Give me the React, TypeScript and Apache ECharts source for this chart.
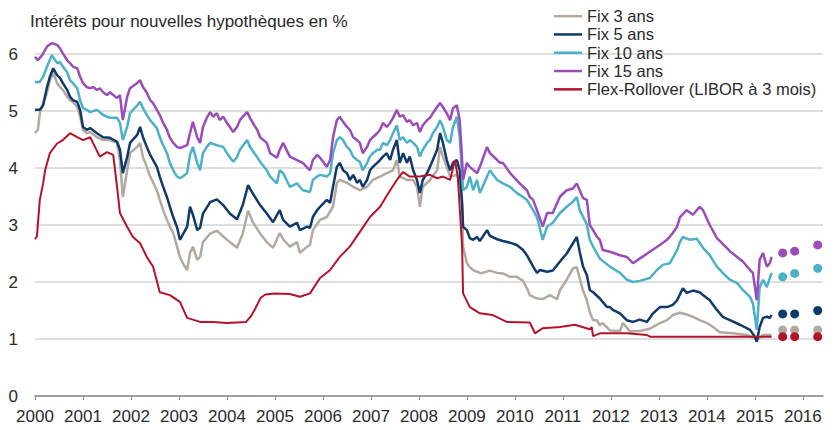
import React, { useEffect, useRef } from "react";
import * as echarts from "echarts";

const TITLE = "Intérêts pour nouvelles hypothèques en %";
const SERIES_NAMES = ["Fix 3 ans", "Fix 5 ans", "Fix 10 ans", "Fix 15 ans", "Flex-Rollover (LIBOR à 3 mois)"];
const YEAR_TICKS = [2000, 2001, 2002, 2003, 2004, 2005, 2006, 2007, 2008, 2009, 2010, 2011, 2012, 2013, 2014, 2015, 2016];
const Y_TICKS = [0, 1, 2, 3, 4, 5, 6];

const fix15: [number, number][] = [
  [2000.00,5.95],[2000.06,5.89],[2000.15,5.98],[2000.25,6.13],[2000.35,6.19],[2000.46,6.16],[2000.52,6.10],[2000.58,6.01],[2000.67,5.89],[2000.73,5.84],[2000.79,5.78],[2000.88,5.75],[2000.94,5.60],[2001.00,5.49],[2001.08,5.42],[2001.15,5.40],[2001.21,5.42],[2001.29,5.37],[2001.35,5.40],[2001.42,5.33],[2001.50,5.28],[2001.56,5.33],[2001.63,5.28],[2001.71,5.23],[2001.77,5.28],[2001.83,4.84],[2001.92,5.25],[2001.98,5.40],[2002.13,5.49],[2002.19,5.54],[2002.25,5.42],[2002.33,5.32],[2002.40,5.19],[2002.46,5.14],[2002.54,5.02],[2002.60,4.93],[2002.67,4.79],[2002.75,4.67],[2002.81,4.53],[2002.88,4.44],[2002.96,4.37],[2003.02,4.35],[2003.08,4.37],[2003.17,4.40],[2003.23,4.61],[2003.29,4.81],[2003.38,4.54],[2003.44,4.44],[2003.50,4.72],[2003.58,4.88],[2003.65,4.98],[2003.71,4.90],[2003.79,4.96],[2003.85,4.84],[2003.92,4.90],[2004.00,4.79],[2004.06,4.72],[2004.13,4.63],[2004.21,4.72],[2004.27,4.84],[2004.33,4.90],[2004.42,4.98],[2004.48,4.88],[2004.54,4.79],[2004.63,4.67],[2004.69,4.54],[2004.83,4.44],[2004.90,4.26],[2005.04,4.18],[2005.10,4.32],[2005.17,4.44],[2005.31,4.20],[2005.46,4.14],[2005.58,4.09],[2005.73,3.96],[2005.79,4.14],[2005.88,4.23],[2005.94,4.18],[2006.08,4.02],[2006.15,4.14],[2006.21,4.54],[2006.29,4.84],[2006.35,4.90],[2006.42,4.81],[2006.50,4.72],[2006.56,4.67],[2006.63,4.54],[2006.71,4.49],[2006.77,4.44],[2006.83,4.26],[2006.92,4.37],[2006.98,4.49],[2007.04,4.54],[2007.13,4.61],[2007.19,4.67],[2007.25,4.79],[2007.33,4.72],[2007.40,4.79],[2007.46,4.88],[2007.54,5.02],[2007.60,4.90],[2007.67,4.93],[2007.75,4.81],[2007.81,4.84],[2007.88,4.75],[2007.96,4.79],[2008.02,4.63],[2008.08,4.75],[2008.17,4.84],[2008.23,4.88],[2008.29,4.96],[2008.38,5.07],[2008.44,5.14],[2008.50,5.07],[2008.58,4.96],[2008.65,4.84],[2008.71,5.05],[2008.79,5.10],[2008.85,4.84],[2008.90,4.14],[2008.92,3.79],[2009.00,4.09],[2009.06,4.02],[2009.21,3.91],[2009.27,4.02],[2009.42,4.37],[2009.48,4.26],[2009.63,4.14],[2009.69,4.09],[2009.75,4.09],[2009.90,3.91],[2010.10,3.73],[2010.25,3.61],[2010.31,3.49],[2010.38,3.44],[2010.46,3.26],[2010.58,2.97],[2010.67,3.21],[2010.79,3.21],[2010.94,3.50],[2011.08,3.61],[2011.21,3.64],[2011.29,3.73],[2011.35,3.61],[2011.42,3.47],[2011.50,3.44],[2011.56,3.00],[2011.63,2.91],[2011.71,2.79],[2011.77,2.74],[2011.83,2.56],[2011.98,2.53],[2012.19,2.47],[2012.33,2.44],[2012.46,2.33],[2012.60,2.41],[2012.81,2.53],[2013.02,2.65],[2013.17,2.74],[2013.29,2.86],[2013.38,2.97],[2013.44,3.14],[2013.58,3.26],[2013.71,3.18],[2013.85,3.32],[2013.92,3.26],[2014.06,3.00],[2014.21,2.77],[2014.33,2.67],[2014.48,2.54],[2014.63,2.44],[2014.75,2.36],[2014.90,2.21],[2014.96,2.16],[2015.04,1.68],[2015.10,2.39],[2015.17,2.51],[2015.25,2.27],[2015.31,2.33],[2015.35,2.44]
];

const fix10: [number, number][] = [
  [2000.00,5.51],[2000.10,5.51],[2000.17,5.60],[2000.25,5.78],[2000.35,5.98],[2000.46,5.84],[2000.52,5.86],[2000.58,5.78],[2000.67,5.68],[2000.73,5.54],[2000.79,5.49],[2000.88,5.40],[2000.94,5.19],[2001.00,5.05],[2001.08,5.02],[2001.15,4.98],[2001.29,5.02],[2001.42,4.93],[2001.56,4.88],[2001.71,4.88],[2001.77,4.79],[2001.83,4.49],[2001.92,4.72],[2001.98,4.96],[2002.13,5.10],[2002.19,5.16],[2002.25,5.05],[2002.33,4.93],[2002.40,4.84],[2002.54,4.70],[2002.60,4.54],[2002.67,4.40],[2002.75,4.26],[2002.81,4.09],[2002.88,3.96],[2002.96,3.85],[2003.02,3.82],[2003.08,3.85],[2003.17,3.91],[2003.23,4.23],[2003.29,4.37],[2003.38,4.09],[2003.44,3.96],[2003.50,4.26],[2003.58,4.37],[2003.65,4.44],[2003.79,4.40],[2003.92,4.37],[2004.00,4.26],[2004.13,4.11],[2004.21,4.19],[2004.27,4.32],[2004.42,4.49],[2004.48,4.37],[2004.63,4.19],[2004.69,4.11],[2004.83,3.96],[2004.90,3.85],[2005.04,3.73],[2005.10,3.96],[2005.17,3.91],[2005.31,3.67],[2005.46,3.73],[2005.58,3.61],[2005.73,3.58],[2005.79,3.79],[2005.88,3.85],[2005.94,3.88],[2006.08,3.85],[2006.15,3.91],[2006.21,4.26],[2006.29,4.49],[2006.35,4.54],[2006.42,4.49],[2006.50,4.37],[2006.56,4.32],[2006.63,4.20],[2006.71,4.14],[2006.77,4.11],[2006.83,3.96],[2006.92,4.09],[2006.98,4.20],[2007.04,4.26],[2007.13,4.32],[2007.19,4.32],[2007.25,4.44],[2007.33,4.40],[2007.40,4.49],[2007.46,4.61],[2007.54,4.75],[2007.60,4.49],[2007.67,4.54],[2007.75,4.44],[2007.81,4.49],[2007.88,4.44],[2007.96,4.37],[2008.02,4.20],[2008.08,4.32],[2008.17,4.44],[2008.23,4.49],[2008.29,4.61],[2008.38,4.72],[2008.44,4.84],[2008.50,4.72],[2008.58,4.49],[2008.65,4.44],[2008.71,4.72],[2008.79,4.90],[2008.85,4.55],[2008.92,3.61],[2009.00,3.67],[2009.06,3.85],[2009.13,3.61],[2009.21,3.79],[2009.27,3.56],[2009.42,3.85],[2009.48,3.96],[2009.63,3.79],[2009.75,3.73],[2009.90,3.67],[2010.04,3.56],[2010.17,3.49],[2010.25,3.44],[2010.38,3.26],[2010.46,3.14],[2010.58,2.74],[2010.67,2.97],[2010.79,3.04],[2010.94,3.21],[2011.08,3.32],[2011.21,3.41],[2011.29,3.49],[2011.35,3.26],[2011.50,3.01],[2011.56,2.74],[2011.63,2.62],[2011.77,2.41],[2011.98,2.27],[2012.19,2.16],[2012.33,2.04],[2012.46,2.00],[2012.60,2.02],[2012.81,2.07],[2012.96,2.21],[2013.08,2.30],[2013.23,2.33],[2013.38,2.56],[2013.44,2.70],[2013.50,2.79],[2013.65,2.74],[2013.79,2.76],[2013.92,2.60],[2014.06,2.47],[2014.21,2.27],[2014.33,2.16],[2014.48,2.04],[2014.63,1.98],[2014.75,1.86],[2014.90,1.74],[2014.96,1.62],[2015.04,1.16],[2015.10,1.91],[2015.17,2.04],[2015.25,1.91],[2015.31,2.07],[2015.35,2.16]
];

const fix5: [number, number][] = [
  [2000.00,5.02],[2000.10,5.02],[2000.17,5.10],[2000.25,5.42],[2000.31,5.60],[2000.38,5.75],[2000.46,5.63],[2000.52,5.58],[2000.58,5.49],[2000.67,5.37],[2000.73,5.25],[2000.79,5.19],[2000.88,5.16],[2000.94,5.02],[2001.00,4.72],[2001.08,4.67],[2001.15,4.70],[2001.29,4.61],[2001.42,4.54],[2001.56,4.53],[2001.71,4.46],[2001.77,4.32],[2001.83,3.91],[2001.92,4.19],[2001.98,4.44],[2002.13,4.58],[2002.19,4.72],[2002.25,4.54],[2002.33,4.37],[2002.40,4.23],[2002.54,4.02],[2002.60,3.85],[2002.67,3.67],[2002.75,3.49],[2002.81,3.32],[2002.88,3.14],[2002.96,2.96],[2003.02,2.74],[2003.17,2.97],[2003.23,3.32],[2003.29,3.18],[2003.38,2.91],[2003.44,2.95],[2003.50,3.20],[2003.65,3.40],[2003.79,3.45],[2003.92,3.35],[2004.06,3.20],[2004.21,3.10],[2004.33,3.35],[2004.44,3.70],[2004.54,3.55],[2004.69,3.35],[2004.83,3.20],[2004.96,3.05],[2005.10,3.26],[2005.17,3.09],[2005.31,2.97],[2005.46,3.04],[2005.52,2.91],[2005.67,2.97],[2005.73,2.95],[2005.79,3.14],[2005.88,3.26],[2005.94,3.32],[2006.08,3.44],[2006.15,3.39],[2006.21,3.67],[2006.29,4.02],[2006.35,4.09],[2006.42,3.96],[2006.50,3.91],[2006.56,3.79],[2006.63,3.88],[2006.71,3.74],[2006.77,3.79],[2006.83,3.67],[2006.92,3.79],[2006.98,3.96],[2007.04,4.02],[2007.13,4.09],[2007.19,4.14],[2007.25,4.20],[2007.33,4.26],[2007.40,4.14],[2007.46,4.32],[2007.54,4.49],[2007.60,4.09],[2007.67,4.26],[2007.75,4.09],[2007.81,4.20],[2007.88,3.96],[2007.96,3.79],[2008.02,3.56],[2008.08,3.79],[2008.17,3.91],[2008.23,4.02],[2008.29,4.14],[2008.38,4.32],[2008.44,4.61],[2008.50,4.44],[2008.58,4.14],[2008.65,3.96],[2008.71,4.09],[2008.79,4.14],[2008.85,3.96],[2008.90,3.39],[2008.92,2.97],[2009.00,2.91],[2009.06,2.77],[2009.13,2.74],[2009.21,2.79],[2009.27,2.72],[2009.42,2.91],[2009.48,2.81],[2009.63,2.75],[2009.75,2.72],[2009.90,2.69],[2010.04,2.65],[2010.17,2.56],[2010.25,2.47],[2010.38,2.27],[2010.46,2.16],[2010.52,2.21],[2010.67,2.18],[2010.79,2.20],[2010.94,2.36],[2011.08,2.50],[2011.21,2.68],[2011.29,2.79],[2011.35,2.53],[2011.42,2.27],[2011.50,2.12],[2011.56,1.86],[2011.63,1.82],[2011.77,1.71],[2011.92,1.56],[2011.98,1.56],[2012.04,1.51],[2012.19,1.45],[2012.33,1.33],[2012.46,1.30],[2012.60,1.34],[2012.75,1.30],[2012.88,1.45],[2013.02,1.56],[2013.17,1.56],[2013.29,1.60],[2013.38,1.68],[2013.50,1.89],[2013.58,1.81],[2013.71,1.85],[2013.85,1.82],[2013.92,1.77],[2014.06,1.68],[2014.21,1.51],[2014.33,1.39],[2014.48,1.33],[2014.69,1.25],[2014.90,1.16],[2015.00,1.04],[2015.04,0.95],[2015.10,1.21],[2015.17,1.37],[2015.25,1.39],[2015.31,1.37],[2015.35,1.42]
];

const fix3: [number, number][] = [
  [2000.00,4.61],[2000.06,4.67],[2000.10,4.96],[2000.17,5.14],[2000.25,5.32],[2000.31,5.54],[2000.38,5.67],[2000.46,5.49],[2000.52,5.42],[2000.58,5.37],[2000.67,5.25],[2000.73,5.19],[2000.79,5.16],[2000.88,5.07],[2000.94,4.90],[2001.00,4.67],[2001.08,4.61],[2001.15,4.63],[2001.29,4.54],[2001.42,4.49],[2001.56,4.49],[2001.71,4.44],[2001.77,4.14],[2001.83,3.49],[2001.92,3.96],[2001.98,4.26],[2002.13,4.37],[2002.19,4.44],[2002.25,4.19],[2002.33,4.02],[2002.40,3.85],[2002.54,3.61],[2002.60,3.44],[2002.67,3.26],[2002.75,3.09],[2002.81,2.97],[2002.88,2.86],[2002.96,2.62],[2003.02,2.44],[2003.08,2.33],[2003.17,2.21],[2003.23,2.51],[2003.29,2.62],[2003.38,2.39],[2003.44,2.44],[2003.50,2.70],[2003.65,2.85],[2003.79,2.90],[2003.92,2.80],[2004.06,2.70],[2004.21,2.60],[2004.33,2.85],[2004.44,3.25],[2004.54,3.05],[2004.69,2.85],[2004.83,2.70],[2004.96,2.60],[2005.10,2.86],[2005.17,2.75],[2005.31,2.62],[2005.46,2.70],[2005.52,2.51],[2005.67,2.62],[2005.73,2.65],[2005.79,2.91],[2005.94,3.09],[2006.08,3.14],[2006.21,3.32],[2006.29,3.74],[2006.35,3.79],[2006.50,3.74],[2006.63,3.67],[2006.77,3.61],[2006.92,3.67],[2007.04,3.79],[2007.19,3.85],[2007.33,3.91],[2007.46,3.96],[2007.54,4.14],[2007.60,3.85],[2007.75,3.79],[2007.88,3.79],[2007.96,3.67],[2008.02,3.32],[2008.08,3.67],[2008.23,3.79],[2008.38,3.96],[2008.44,4.37],[2008.50,4.20],[2008.58,4.02],[2008.65,3.85],[2008.79,3.88],[2008.85,3.74],[2008.90,3.32],[2008.92,2.62],[2009.00,2.33],[2009.06,2.26],[2009.13,2.21],[2009.27,2.16],[2009.33,2.16],[2009.48,2.20],[2009.63,2.16],[2009.75,2.15],[2009.90,2.09],[2010.04,2.09],[2010.17,2.02],[2010.25,1.89],[2010.31,1.77],[2010.46,1.71],[2010.58,1.70],[2010.73,1.77],[2010.88,1.70],[2010.94,1.86],[2011.08,2.04],[2011.21,2.24],[2011.29,2.26],[2011.35,2.06],[2011.42,1.85],[2011.50,1.68],[2011.56,1.47],[2011.63,1.33],[2011.71,1.33],[2011.77,1.24],[2011.83,1.28],[2011.98,1.15],[2012.19,1.14],[2012.25,1.28],[2012.40,1.13],[2012.60,1.14],[2012.81,1.18],[2013.02,1.28],[2013.17,1.33],[2013.29,1.42],[2013.44,1.46],[2013.58,1.43],[2013.71,1.39],[2013.85,1.33],[2014.00,1.28],[2014.13,1.21],[2014.27,1.12],[2014.54,1.10],[2014.83,1.07],[2015.00,1.02],[2015.04,0.98],[2015.17,1.07],[2015.35,1.07]
];

const libor: [number, number][] = [
  [2000.00,2.75],[2000.04,2.80],[2000.10,3.44],[2000.17,3.73],[2000.21,3.96],[2000.31,4.26],[2000.46,4.43],[2000.58,4.49],[2000.73,4.61],[2000.88,4.54],[2001.00,4.49],[2001.15,4.54],[2001.25,4.37],[2001.35,4.20],[2001.50,4.28],[2001.63,4.23],[2001.71,3.67],[2001.77,3.21],[2001.92,2.97],[2002.04,2.79],[2002.19,2.68],[2002.33,2.44],[2002.46,2.27],[2002.60,1.82],[2002.81,1.77],[2003.02,1.65],[2003.17,1.37],[2003.44,1.30],[2003.70,1.30],[2004.00,1.28],[2004.40,1.30],[2004.50,1.40],[2004.60,1.55],[2004.70,1.72],[2004.80,1.78],[2005.00,1.80],[2005.31,1.79],[2005.52,1.74],[2005.73,1.80],[2005.94,2.07],[2006.15,2.21],[2006.35,2.44],[2006.56,2.62],[2006.77,2.88],[2006.98,3.14],[2007.19,3.32],[2007.40,3.61],[2007.54,3.79],[2007.67,3.93],[2007.81,3.85],[2008.02,3.85],[2008.23,3.88],[2008.38,3.82],[2008.50,3.85],[2008.65,3.79],[2008.75,4.14],[2008.81,3.85],[2008.90,2.62],[2008.92,1.80],[2009.06,1.56],[2009.27,1.45],[2009.54,1.42],[2009.83,1.30],[2010.31,1.29],[2010.42,1.10],[2010.58,1.19],[2010.94,1.21],[2011.25,1.25],[2011.56,1.17],[2011.60,1.21],[2011.63,1.05],[2011.77,1.10],[2012.33,1.10],[2012.75,1.07],[2012.81,1.04],[2013.50,1.04],[2014.50,1.04],[2015.35,1.04]
];

const FORECAST_YEARS = [2015.58, 2015.83, 2016.31];
const fix3Forecast = [1.16, 1.16, 1.16];
const fix5Forecast = [1.44, 1.44, 1.50];
const fix10Forecast = [2.09, 2.15, 2.24];
const fix15Forecast = [2.51, 2.54, 2.65];
const liborForecast = [1.04, 1.04, 1.04];

const COLORS = ["#b3a9a1", "#0f3a69", "#4cb0c8", "#9a4db8", "#b3142c"];
const FONT = "'Liberation Sans', Arial, Helvetica, sans-serif";

export default function App() {
  const ref = useRef<HTMLDivElement>(null);
  useEffect(() => {
    if (!ref.current) return;
    const chart = echarts.init(ref.current, null, { renderer: "svg" });
    const lines = [fix3, fix5, fix10, fix15, libor];
    const forecasts = [fix3Forecast, fix5Forecast, fix10Forecast, fix15Forecast, liborForecast];
    const series: any[] = [];
    lines.forEach((d, i) => {
      series.push({
        name: SERIES_NAMES[i],
        type: "line",
        data: d,
        symbol: "none",
        showSymbol: false,
        clip: false,
        lineStyle: { color: COLORS[i], width: i === 4 ? 2 : 2.5 },
        itemStyle: { color: COLORS[i] },
        z: 2 + i,
      });
    });
    forecasts.forEach((f, i) => {
      series.push({
        name: SERIES_NAMES[i] + " (prévision)",
        type: "scatter",
        data: FORECAST_YEARS.map((y, k) => [y, f[k]]),
        symbol: "circle",
        symbolSize: 9,
        clip: false,
        itemStyle: { color: COLORS[i], opacity: 1 },
        z: 10 + i,
      });
    });
    chart.setOption({
      animation: false,
      backgroundColor: "#ffffff",
      textStyle: { fontFamily: FONT },
      title: {
        text: TITLE,
        left: 30,
        top: 11,
        padding: 0,
        textStyle: { fontFamily: FONT, fontSize: 17, fontWeight: "normal", color: "#2a2a2a", lineHeight: 20 },
      },
      legend: {
        data: SERIES_NAMES,
        orient: "vertical",
        left: 554,
        top: 7,
        padding: 0,
        itemGap: 0,
        itemWidth: 28,
        itemHeight: 2.5,
        icon: "rect",
        textStyle: { fontFamily: FONT, fontSize: 16.5, color: "#2a2a2a", lineHeight: 18.3 },
      },
      grid: { left: 35, right: 15, top: 54, bottom: 34, containLabel: false },
      xAxis: {
        type: "value",
        min: 2000,
        max: 2016.42,
        interval: 1,
        axisLine: { show: true, lineStyle: { color: "#8c8c8c", width: 1.5 } },
        axisTick: { show: true, length: 4, customValues: YEAR_TICKS, lineStyle: { color: "#8c8c8c", width: 1 } },
        axisLabel: {
          customValues: YEAR_TICKS,
          margin: 12,
          fontSize: 17,
          fontFamily: FONT,
          color: "#2a2a2a",
          formatter: (v: number) => (Number.isInteger(v) ? String(v) : ""),
        },
        splitLine: { show: false },
      },
      yAxis: {
        type: "value",
        min: Y_TICKS[0],
        max: Y_TICKS[Y_TICKS.length - 1],
        interval: 1,
        axisLine: { show: false },
        axisTick: { show: false },
        axisLabel: { margin: 17, fontSize: 17, fontFamily: FONT, color: "#2a2a2a" },
        splitLine: { show: true, lineStyle: { color: "#d4d4d4", width: 1.5 } },
      },
      series,
    });
    return () => chart.dispose();
  }, []);
  return <div ref={ref} style={{ width: 838, height: 430, position: "absolute", left: 0, top: 0 }} />;
}
